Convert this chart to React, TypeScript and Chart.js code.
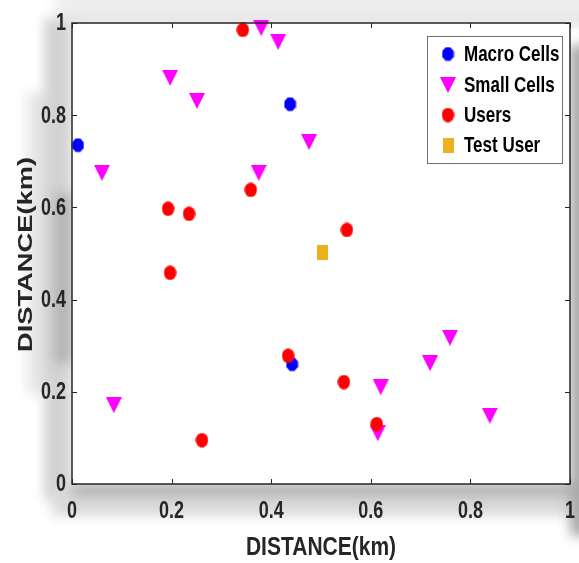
import { useEffect, useRef } from "react";
import { Chart, registerables } from "chart.js";
Chart.register(...registerables);

const seriesNames = ["Macro Cells", "Small Cells", "Users", "Test User"];
const macroX = [0.012, 0.438, 0.442];
const macroY = [0.735, 0.824, 0.26];
const smallX = [0.38, 0.414, 0.197, 0.251, 0.06, 0.375, 0.476, 0.861, 0.084, 0.759, 0.719, 0.62, 0.614, 0.839];
const smallY = [0.989, 0.959, 0.881, 0.831, 0.675, 0.675, 0.742, 0.711, 0.171, 0.317, 0.262, 0.21, 0.11, 0.148];
const userX = [0.343, 0.193, 0.235, 0.359, 0.197, 0.552, 0.261, 0.434, 0.546, 0.612];
const userY = [0.985, 0.597, 0.586, 0.638, 0.458, 0.551, 0.095, 0.278, 0.221, 0.13];
const testX = [0.504];
const testY = [0.503];
const axisTitle = "DISTANCE(km)";
const tickStep = 0.2;

const SANS = '"Liberation Sans", Arial, sans-serif';
const INK = "#262626";

function fmt(v: number): string {
  return String(Math.round(v * 10) / 10);
}

function makeMarker(kind: string, color: string): HTMLCanvasElement {
  const c = document.createElement("canvas");
  const ctx = c.getContext("2d")!;
  if (kind === "ellipse") {
    c.width = 13; c.height = 15;
    ctx.fillStyle = color;
    ctx.beginPath();
    ctx.ellipse(6.5, 7.5, 6.2, 7.3, 0, 0, Math.PI * 2);
    ctx.fill();
  } else if (kind === "hex") {
    c.width = 13; c.height = 15;
    ctx.fillStyle = color;
    ctx.beginPath();
    const n = 8;
    for (let i = 0; i < n; i++) {
      const a = (Math.PI * 2 * i) / n + Math.PI / 8;
      const px = 6.5 + 6.3 * Math.cos(a);
      const py = 7.5 + 7.4 * Math.sin(a);
      if (i === 0) ctx.moveTo(px, py); else ctx.lineTo(px, py);
    }
    ctx.closePath();
    ctx.fill();
  } else if (kind === "tri") {
    c.width = 16; c.height = 16;
    ctx.fillStyle = color;
    ctx.beginPath();
    ctx.moveTo(0, 0);
    ctx.lineTo(16, 0);
    ctx.lineTo(8, 16);
    ctx.closePath();
    ctx.fill();
  } else {
    c.width = 11; c.height = 15;
    ctx.fillStyle = color;
    ctx.fillRect(0, 0, 11, 15);
  }
  return c;
}

function stretchedText(ctx: CanvasRenderingContext2D, text: string, x: number, y: number, font: string, sy: number, align: CanvasTextAlign, color: string) {
  ctx.save();
  ctx.translate(x, y);
  ctx.scale(1, sy);
  ctx.font = font;
  ctx.fillStyle = color;
  ctx.textAlign = align;
  ctx.textBaseline = "middle";
  ctx.fillText(text, 0, 0);
  ctx.restore();
}

const bgPlugin = {
  id: "bgFrame",
  beforeDraw(chart: any) {
    const { ctx, width, height, chartArea: a } = chart;
    ctx.save();
    ctx.fillStyle = "#ffffff";
    ctx.fillRect(0, 0, width, height);
    ctx.filter = "blur(6px)";
    // top strip
    ctx.fillStyle = "#eeeeee";
    ctx.fillRect(55, -10, width, a.top + 4);
    ctx.fillStyle = "#dedede";
    ctx.fillRect(70, a.top - 8, width, 10);
    // left strip
    ctx.fillStyle = "#e6e6e6";
    ctx.fillRect(a.left - 45, a.top + 70, 30, 300);
    ctx.fillStyle = "#d2d2d2";
    ctx.fillRect(a.left - 28, a.top - 5, 28, a.bottom - a.top + 20);
    ctx.fillStyle = "#b4b4b4";
    ctx.fillRect(a.left - 18, a.top + 170, 18, 170);
    // bottom strip
    ctx.fillStyle = "#dadada";
    ctx.fillRect(a.left - 20, a.bottom, a.right - a.left + 40, 32);
    ctx.fillStyle = "#b0b0b0";
    ctx.fillRect(a.left, a.bottom, a.right - a.left + 10, 12);
    // right strip
    ctx.fillStyle = "#a9a9a9";
    ctx.fillRect(a.right, a.top + 22, 20, a.bottom - a.top + 30);
    ctx.restore();
    ctx.save();
    ctx.fillStyle = "#ffffff";
    ctx.fillRect(a.left, a.top, a.right - a.left, a.bottom - a.top);
    ctx.restore();
  },
  afterDraw(chart: any) {
    const { ctx, chartArea: a } = chart;
    const xs = chart.scales.x;
    const ys = chart.scales.y;
    ctx.save();
    ctx.strokeStyle = INK;
    ctx.lineWidth = 1.5;
    ctx.strokeRect(a.left, a.top, a.right - a.left, a.bottom - a.top);
    ctx.lineWidth = 1;
    ctx.beginPath();
    xs.ticks.forEach((t: any) => {
      const px = Math.round(xs.getPixelForValue(t.value)) + 0.5;
      ctx.moveTo(px, a.bottom); ctx.lineTo(px, a.bottom - 5);
      ctx.moveTo(px, a.top); ctx.lineTo(px, a.top + 5);
    });
    ys.ticks.forEach((t: any) => {
      const py = Math.round(ys.getPixelForValue(t.value)) + 0.5;
      ctx.moveTo(a.left, py); ctx.lineTo(a.left + 5, py);
      ctx.moveTo(a.right, py); ctx.lineTo(a.right - 5, py);
    });
    ctx.stroke();

    // tick labels
    const tickFont = `bold 18px ${SANS}`;
    xs.ticks.forEach((t: any) => {
      stretchedText(ctx, fmt(t.value), xs.getPixelForValue(t.value), a.bottom + 28, tickFont, 1.3, "center", INK);
    });
    ys.ticks.forEach((t: any) => {
      stretchedText(ctx, fmt(t.value), a.left - 6, ys.getPixelForValue(t.value) + 1, tickFont, 1.3, "right", INK);
    });

    // x axis title
    stretchedText(ctx, axisTitle, (a.left + a.right) / 2, a.bottom + 64, `bold 21px ${SANS}`, 1.2, "center", INK);

    // y axis title (stretched along its length like the reference)
    ctx.save();
    ctx.translate(26, (a.top + a.bottom) / 2 + 1);
    ctx.rotate(-Math.PI / 2);
    ctx.scale(1.3, 1);
    ctx.font = `bold 21px ${SANS}`;
    ctx.fillStyle = INK;
    ctx.textAlign = "center";
    ctx.textBaseline = "middle";
    ctx.fillText(axisTitle, 0, 0);
    ctx.restore();

    // legend
    const lx = 427, ly = 36, lw = 135, lh = 127;
    ctx.fillStyle = "#ffffff";
    ctx.fillRect(lx, ly, lw, lh);
    ctx.strokeStyle = "#707070";
    ctx.lineWidth = 1;
    ctx.strokeRect(lx + 0.5, ly + 0.5, lw, lh);
    const rows = [54, 85, 115, 145];
    chart.data.datasets.forEach((ds: any, i: number) => {
      const img = ds.pointStyle as HTMLCanvasElement;
      ctx.drawImage(img, 448 - img.width / 2, rows[i] - img.height / 2);
      stretchedText(ctx, ds.label, 464, rows[i] + 1, `bold 17px ${SANS}`, 1.25, "left", "#000000");
    });
    ctx.restore();
  },
};

function toPts(xs: number[], ys: number[]) {
  return xs.map((x, i) => ({ x, y: ys[i] }));
}

export default function App() {
  const ref = useRef<HTMLCanvasElement>(null);
  useEffect(() => {
    document.body.style.margin = "0";
    const canvas = ref.current!;
    const markers = [
      makeMarker("hex", "#0000ff"),
      makeMarker("tri", "#ff00ff"),
      makeMarker("ellipse", "#ff0000"),
      makeMarker("rect", "#edb120"),
    ];
    const series = [toPts(macroX, macroY), toPts(smallX, smallY), toPts(userX, userY), toPts(testX, testY)];
    const colors = ["#0000ff", "#ff00ff", "#ff0000", "#edb120"];
    const chart = new Chart(canvas, {
      type: "scatter",
      data: {
        datasets: series.map((d, i) => ({
          label: seriesNames[i],
          data: d,
          pointStyle: markers[i] as any,
          backgroundColor: colors[i],
          borderColor: colors[i],
          pointRadius: 8,
          clip: false as any,
          order: 4 - i,
        })),
      },
      options: {
        responsive: false,
        animation: false,
        devicePixelRatio: 1,
        events: [],
        layout: { padding: { left: 0, top: 23, right: 9, bottom: 0 } },
        plugins: { legend: { display: false }, tooltip: { enabled: false } },
        scales: {
          x: {
            type: "linear",
            min: 0,
            max: 1,
            grid: { display: false, drawTicks: false, tickLength: 0 },
            border: { display: false },
            ticks: { stepSize: tickStep, display: false, callback: (v: any) => fmt(Number(v)) },
            afterFit: (s: any) => { s.height = 79; s.paddingLeft = 0; s.paddingRight = 0; },
          },
          y: {
            type: "linear",
            min: 0,
            max: 1,
            grid: { display: false, drawTicks: false, tickLength: 0 },
            border: { display: false },
            ticks: { stepSize: tickStep, display: false, callback: (v: any) => fmt(Number(v)) },
            afterFit: (s: any) => { s.width = 72; s.paddingTop = 0; s.paddingBottom = 0; },
          },
        },
      },
      plugins: [bgPlugin],
    });
    return () => chart.destroy();
  }, []);
  return (
    <div style={{ width: 579, height: 563 }}>
      <canvas ref={ref} width={579} height={563} style={{ display: "block" }} />
    </div>
  );
}
